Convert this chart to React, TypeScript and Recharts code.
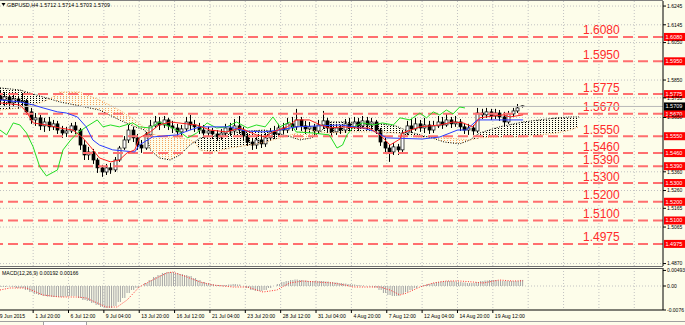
import React from "react";
import {
  ComposedChart,
  Bar,
  Line,
  Area,
  XAxis,
  YAxis,
  CartesianGrid,
  ReferenceLine,
} from "recharts";

// GBPUSD H4 - one candle per two H4 bars (bar index = 2 * position)
// [open, high, low, close]
const candles: [number, number, number, number][] = [
  [1.5765, 1.5797, 1.5722, 1.5744], [1.5744, 1.5786, 1.5712, 1.576], [1.576, 1.5776, 1.5701, 1.5728],
  [1.5728, 1.577, 1.5706, 1.5749], [1.5749, 1.5765, 1.5696, 1.5733], [1.5733, 1.5781, 1.5712, 1.5738],
  [1.5738, 1.5749, 1.5664, 1.568], [1.568, 1.5701, 1.5616, 1.5637], [1.5637, 1.5674, 1.5605, 1.5648],
  [1.5648, 1.5664, 1.5583, 1.5605], [1.5605, 1.5648, 1.5573, 1.5626], [1.5626, 1.5653, 1.5578, 1.56],
  [1.56, 1.5637, 1.5583, 1.5616], [1.5616, 1.5632, 1.5562, 1.5583], [1.5583, 1.5605, 1.5541, 1.5567],
  [1.5567, 1.56, 1.5546, 1.5578], [1.5578, 1.5621, 1.5567, 1.5605], [1.5605, 1.5626, 1.5562, 1.5583],
  [1.5583, 1.5594, 1.5477, 1.5503], [1.5503, 1.553, 1.5423, 1.545], [1.545, 1.5493, 1.5423, 1.5466],
  [1.5466, 1.5482, 1.5402, 1.5423], [1.5423, 1.5434, 1.5354, 1.5381], [1.5381, 1.5397, 1.5333, 1.5359],
  [1.5359, 1.5402, 1.5343, 1.5381], [1.5381, 1.5407, 1.5349, 1.537], [1.537, 1.5439, 1.5359, 1.5423],
  [1.5423, 1.5498, 1.5413, 1.5487], [1.5487, 1.5551, 1.5477, 1.553], [1.553, 1.561, 1.5514, 1.5583],
  [1.5583, 1.56, 1.5519, 1.5541], [1.5541, 1.5562, 1.5477, 1.5503], [1.5503, 1.553, 1.5461, 1.5487],
  [1.5487, 1.5573, 1.5477, 1.5557], [1.5557, 1.5637, 1.5546, 1.5605], [1.5605, 1.5658, 1.5594, 1.5626],
  [1.5626, 1.5653, 1.5583, 1.561], [1.561, 1.5658, 1.5594, 1.5637], [1.5637, 1.5648, 1.5583, 1.5605],
  [1.5605, 1.5632, 1.5567, 1.5594], [1.5594, 1.5616, 1.5551, 1.5573], [1.5573, 1.561, 1.5546, 1.5589],
  [1.5589, 1.5653, 1.5578, 1.5626], [1.5626, 1.5664, 1.5583, 1.561], [1.561, 1.5637, 1.5573, 1.56],
  [1.56, 1.5621, 1.5562, 1.5583], [1.5583, 1.561, 1.5541, 1.5567], [1.5567, 1.56, 1.5546, 1.5578],
  [1.5578, 1.5594, 1.5535, 1.5562], [1.5562, 1.5583, 1.5525, 1.5546], [1.5546, 1.5589, 1.553, 1.5567],
  [1.5567, 1.5616, 1.5551, 1.5594], [1.5594, 1.5621, 1.5551, 1.5578], [1.5578, 1.5642, 1.5562, 1.5605],
  [1.5605, 1.5658, 1.5562, 1.5583], [1.5583, 1.56, 1.5525, 1.5551], [1.5551, 1.5567, 1.5498, 1.5519],
  [1.5519, 1.5541, 1.5477, 1.5503], [1.5503, 1.5551, 1.5482, 1.553], [1.553, 1.5562, 1.5487, 1.5509],
  [1.5509, 1.5567, 1.5493, 1.5541], [1.5541, 1.5594, 1.5525, 1.5573], [1.5573, 1.5605, 1.5535, 1.5562],
  [1.5562, 1.5616, 1.5546, 1.5594], [1.5594, 1.5621, 1.5562, 1.5583], [1.5583, 1.5648, 1.5567, 1.5616],
  [1.5616, 1.5653, 1.5578, 1.56], [1.56, 1.5696, 1.5583, 1.5637], [1.5637, 1.5653, 1.5578, 1.5605],
  [1.5605, 1.5632, 1.5562, 1.5589], [1.5589, 1.5626, 1.5567, 1.56], [1.56, 1.5616, 1.5557, 1.5578],
  [1.5578, 1.5637, 1.5562, 1.561], [1.561, 1.5685, 1.5589, 1.5632], [1.5632, 1.5648, 1.5567, 1.5594],
  [1.5594, 1.5616, 1.5546, 1.5573], [1.5573, 1.5616, 1.5557, 1.5594], [1.5594, 1.561, 1.5562, 1.5583],
  [1.5583, 1.5642, 1.5567, 1.5616], [1.5616, 1.5648, 1.5578, 1.56], [1.56, 1.5653, 1.5589, 1.5626],
  [1.5626, 1.5648, 1.5578, 1.5605], [1.5605, 1.5658, 1.5594, 1.5632], [1.5632, 1.5653, 1.5583, 1.561],
  [1.561, 1.5648, 1.5589, 1.5626], [1.5626, 1.5637, 1.5562, 1.5583], [1.5583, 1.5594, 1.5498, 1.5519],
  [1.5519, 1.5541, 1.5461, 1.5487], [1.5487, 1.5503, 1.5413, 1.5466], [1.5466, 1.5514, 1.545, 1.5493],
  [1.5493, 1.5509, 1.545, 1.5477], [1.5477, 1.5583, 1.5466, 1.5567], [1.5567, 1.5632, 1.5557, 1.5605],
  [1.5605, 1.5642, 1.5567, 1.5589], [1.5589, 1.5648, 1.5578, 1.5616], [1.5616, 1.5637, 1.5573, 1.5594],
  [1.5594, 1.5648, 1.5567, 1.561], [1.561, 1.5632, 1.5562, 1.5583], [1.5583, 1.5632, 1.5567, 1.5605],
  [1.5605, 1.5658, 1.5594, 1.5626], [1.5626, 1.5653, 1.5589, 1.561], [1.561, 1.5669, 1.56, 1.5637],
  [1.5637, 1.5653, 1.5594, 1.5616], [1.5616, 1.5658, 1.56, 1.5626], [1.5626, 1.5642, 1.5578, 1.56],
  [1.56, 1.5621, 1.5562, 1.5583], [1.5583, 1.5616, 1.5557, 1.5594], [1.5594, 1.561, 1.5557, 1.5578],
  [1.5578, 1.5701, 1.5567, 1.5674], [1.5674, 1.5696, 1.5642, 1.5664], [1.5664, 1.5701, 1.5648, 1.568],
  [1.568, 1.5696, 1.5637, 1.5658], [1.5658, 1.5696, 1.5642, 1.5674], [1.5674, 1.569, 1.5632, 1.5653],
  [1.5653, 1.568, 1.56, 1.5626], [1.5626, 1.5685, 1.5616, 1.5669], [1.5669, 1.5701, 1.5653, 1.5685],
  [1.5685, 1.5722, 1.5674, 1.5701], [1.5712, 1.5714, 1.5703, 1.5709],
];

// MACD(12,26,9) main value per candle
const macdMain = [
  -0.00032, -0.00032, -0.00016, -0.00032, -0.00063, -0.00063, -0.00127, -0.0019, -0.00253, -0.00285,
  -0.00317, -0.00333, -0.00348, -0.00348, -0.00348, -0.00333, -0.00317, -0.00317, -0.0038, -0.00443,
  -0.00475, -0.00538, -0.00602, -0.00665, -0.00697, -0.00697, -0.00633, -0.00507, -0.0038, -0.00222,
  -0.00127, -0.00063, 0, 0.00095, 0.0019, 0.00285, 0.00348, 0.00412, 0.00443, 0.00443,
  0.00412, 0.0038, 0.00348, 0.00317, 0.00253, 0.0019, 0.00127, 0.00095, 0.00063, 0.00032,
  0.00032, 0.00032, 0.00048, 0.00063, 0.00048, 0, -0.00063, -0.00127, -0.00158, -0.00158,
  -0.00127, -0.00063, 0, 0.00063, 0.00127, 0.00158, 0.0019, 0.00206, 0.0019, 0.00174,
  0.00158, 0.00158, 0.00158, 0.00158, 0.00143, 0.00127, 0.00111, 0.00095, 0.00079, 0.00063,
  0.00048, 0.00032, 0.00016, 0, -0.00016, -0.00048, -0.00127, -0.00222, -0.00285, -0.00317,
  -0.00317, -0.00253, -0.0019, -0.00127, -0.00063, 0, 0.00032, 0.00063, 0.00095, 0.00127,
  0.00143, 0.00158, 0.00158, 0.00143, 0.00127, 0.00111, 0.00095, 0.00095, 0.00127, 0.00158,
  0.00174, 0.0019, 0.0019, 0.00174, 0.00158, 0.00158, 0.00158, 0.00158, 0.00192,
];

// MACD signal [bar, value]
const macdSignal: [number, number][] = [
  [0, -0.00127], [4.5, -0.00063], [12, -0.00063], [19.5, -0.00285], [27, -0.00348], [35, -0.00348],
  [39, -0.0038], [44, -0.00538], [48, -0.00665], [53, -0.00665], [57.5, -0.00443], [63, -0.00032],
  [69, 0.0019], [75.5, 0.00412], [78, 0.00443], [84.6, 0.00285], [90.5, 0.00127], [96.4, 0.00032],
  [105.4, -0.00032], [111.8, -0.00032], [119, -0.0019], [125.3, -0.00127], [131, 0.00095], [137, 0.00158],
  [143.4, 0.00127], [150.7, 0.00095], [156, 0.00032], [159.7, -0.00032], [172, -0.00032], [176.5, -0.00127],
  [181, -0.00285], [184, -0.00222], [190, -0.00032], [196, 0.00095], [202, 0.00158], [208, 0.00158],
  [214, 0.00127], [218.5, 0.00095], [226, 0.0019], [232, 0.00158], [236.7, 0.00166],
];

// Ichimoku [bar, price]
const tenkan: [number, number][] = [
  [0, 1.5728], [9, 1.5717], [12, 1.568], [15, 1.5621], [21, 1.561], [27, 1.5594], [33, 1.5583],
  [37.5, 1.5541], [41, 1.5493], [45, 1.5434], [50, 1.5413], [54, 1.5423], [57.5, 1.5461], [61, 1.5477],
  [63, 1.5541], [68, 1.5573], [72, 1.561], [77, 1.5626], [89, 1.561], [95, 1.5583], [102.7, 1.5573],
  [108.6, 1.5594], [116, 1.5557], [120, 1.5546], [123.5, 1.5573], [130, 1.56], [134, 1.5637], [140, 1.5637],
  [145, 1.561], [149, 1.5594], [155, 1.56], [161.5, 1.5594], [167, 1.5594], [172, 1.5557], [176.5, 1.5503],
  [181, 1.5535], [182, 1.5567], [190, 1.56], [199, 1.561], [205, 1.5626], [209.5, 1.5621], [214, 1.56],
  [217, 1.5648], [220, 1.5653], [227.6, 1.5664], [230.8, 1.5653], [236.7, 1.5664],
];
const kijun: [number, number][] = [
  [0, 1.5744], [9, 1.5733], [15, 1.5717], [19.5, 1.5701], [26, 1.568], [30, 1.5674], [35, 1.5653],
  [39, 1.56], [42, 1.553], [45, 1.5503], [51, 1.5477], [61, 1.5466], [63, 1.5503], [69, 1.5546],
  [80, 1.5557], [86, 1.5583], [90.5, 1.56], [104, 1.56], [111, 1.5578], [119, 1.5573], [126.7, 1.5583],
  [134, 1.56], [154, 1.561], [164, 1.5594], [169, 1.5578], [175, 1.5541], [191, 1.5535], [199, 1.5546],
  [203.6, 1.5567], [207, 1.5583], [211, 1.5583], [216, 1.5637], [236.7, 1.5637],
];
const chikou: [number, number][] = [
  [0, 1.5583], [3, 1.5557], [6, 1.5621], [9, 1.561], [12, 1.5567], [15, 1.5493], [18, 1.5386],
  [21, 1.5338], [26, 1.537], [28.5, 1.5477], [32, 1.553], [35, 1.5567], [39, 1.56], [44, 1.5637],
  [46.6, 1.56], [50, 1.561], [54, 1.56], [60, 1.5621], [63, 1.56], [68, 1.5594], [72, 1.5626],
  [77, 1.56], [81.4, 1.5573], [85, 1.5541], [89, 1.5567], [93.7, 1.5621], [98, 1.5594], [102.7, 1.56],
  [107, 1.5626], [112, 1.5594], [116, 1.561], [120, 1.56], [123.5, 1.5653], [126.7, 1.56], [131, 1.5626],
  [134, 1.5573], [141.6, 1.5567], [149, 1.5557], [152.5, 1.5487], [155, 1.5503], [157, 1.5557],
  [160, 1.56], [164, 1.5621], [169, 1.561], [173, 1.5621], [178, 1.561], [181, 1.5648], [185.5, 1.5637],
  [190, 1.5674], [193, 1.5648], [196, 1.568], [199, 1.5664], [202, 1.569], [205, 1.5669], [208, 1.5706],
  [210.4, 1.5701],
];
// [bar, senkou span A, senkou span B]
const kumo: [number, number, number][] = [
  [0, 1.569, 1.5808], [9, 1.5701, 1.5797], [18, 1.5728, 1.5765], [22.6, 1.5749, 1.5749],
  [27, 1.5786, 1.5733], [36, 1.5786, 1.5712], [45, 1.5744, 1.569], [54, 1.569, 1.5637],
  [61, 1.5637, 1.56], [65.6, 1.5594, 1.5583], [68, 1.5567, 1.5477], [72, 1.5551, 1.5434],
  [77, 1.5546, 1.5423], [81.4, 1.5541, 1.545], [86, 1.553, 1.5503], [88, 1.5519, 1.5519],
  [90.5, 1.5477, 1.5541], [97, 1.5466, 1.5551], [104, 1.5487, 1.5567], [113, 1.5503, 1.5578],
  [120, 1.5519, 1.5583], [126.7, 1.5541, 1.5562], [130.3, 1.5551, 1.5551], [135.7, 1.5573, 1.553],
  [141, 1.5583, 1.5541], [145, 1.5573, 1.5573], [149, 1.5567, 1.5626], [156, 1.5573, 1.5626],
  [163, 1.5573, 1.5616], [172, 1.5573, 1.5616], [179, 1.5567, 1.5605], [185.5, 1.5551, 1.5573],
  [192, 1.5541, 1.5551], [195.5, 1.5541, 1.5541], [201, 1.5541, 1.5519], [208, 1.5535, 1.5509],
  [212.7, 1.553, 1.553], [217, 1.5541, 1.5567], [226, 1.5546, 1.56], [236.7, 1.5546, 1.5626],
  [244, 1.5557, 1.5637], [252, 1.5567, 1.5648], [258, 1.5583, 1.5653], [262, 1.56, 1.5653],
];

const levels = [1.608, 1.595, 1.5775, 1.567, 1.555, 1.546, 1.539, 1.53, 1.52, 1.51, 1.4975];
const lastPrice = 1.5709;
const priceTicks = [1.6245, 1.6145, 1.605, 1.585, 1.5755, 1.565, 1.536, 1.526, 1.5165, 1.5065, 1.487];
const macdTicks = [0.00493, 0, -0.0076];
const macdTickLabels = ["0.00493", "0.00", "-0.0076"];
const dateTickBars = [15, 31, 47, 63, 79, 95, 111, 127, 143, 159, 175, 191, 207, 223];
const dateLabels = [
  "1 Jul 20:00", "6 Jul 12:00", "9 Jul 04:00", "13 Jul 20:00", "16 Jul 12:00", "21 Jul 04:00",
  "23 Jul 20:00", "28 Jul 12:00", "31 Jul 04:00", "4 Aug 20:00", "7 Aug 12:00", "12 Aug 04:00",
  "14 Aug 20:00", "19 Aug 12:00",
];
const gridBars = [15, 31, 47, 63, 79, 95, 111, 127, 143, 159, 175, 191, 207, 223, 239, 255, 271, 287];

const BG = "#fdfdea";
const FONT = "'Liberation Sans', Arial, sans-serif";
const GRID = "#c2c2c2";

const candleRows = candles.map((c, i) => ({ bar: i * 2, ohlc: c, hl: [c[2], c[1]], macd: macdMain[i] }));
const toRows = (pts: [number, number][]) => pts.map(([bar, v]) => ({ bar, v }));
const kumoRows = kumo.map(([bar, a, b]) => ({ bar, a, b }));

// split the cloud where the spans cross
function kumoSegments(up: boolean) {
  const out: { bar: number; range: number[] }[][] = [];
  let cur: { bar: number; range: number[] }[] = [];
  kumoRows.forEach((r) => {
    const inside = up ? r.a >= r.b : r.b >= r.a;
    if (inside) cur.push({ bar: r.bar, range: up ? [r.b, r.a] : [r.a, r.b] });
    else if (cur.length) {
      out.push(cur);
      cur = [];
    }
  });
  if (cur.length) out.push(cur);
  return out;
}

function Candle(props: any) {
  const { x, y, width, height, payload } = props;
  if (!payload || !height) return null;
  const [o, h, l, c] = payload.ohlc;
  const py = (p: number) => y + ((h - p) / (h - l)) * height;
  const cx = Math.round(x + width / 2) + 0.5;
  const top = py(Math.max(o, c));
  const bot = py(Math.min(o, c));
  return (
    <g>
      <line x1={cx} x2={cx} y1={y} y2={y + height} stroke="#000" strokeWidth={1} />
      <rect x={cx - 1.5} y={top} width={3} height={Math.max(bot - top, 0.8)}
        fill={c >= o ? "#fff" : "#000"} stroke="#000" strokeWidth={0.7} />
    </g>
  );
}

function Hatch(props: any) {
  const { x, y, width, height } = props;
  if (!height) return null;
  const top = Math.min(y, y + height);
  const h = Math.abs(height);
  const cx = x + width / 2;
  return (
    <g stroke="#a4a4a4" strokeWidth={1}>
      <line x1={cx - 1.1} x2={cx - 1.1} y1={top} y2={top + h} />
      <line x1={cx + 1.1} x2={cx + 1.1} y1={top} y2={top + h} />
    </g>
  );
}

const levelLabel = (v: number) => (p: any) => {
  const y = p.viewBox ? p.viewBox.y : 0;
  const t = v.toFixed(4);
  return (
    <g>
      <text x={583} y={y - 2.5} fontSize={12} fill="#ff2b2b" fontFamily={FONT}>{t}</text>
      <rect x={664} y={y - 4} width={21} height={8} fill="#ff0000" />
      <text x={665.5} y={y + 2} fontSize={5.5} fill="#fff" fontFamily={FONT}>{t}</text>
    </g>
  );
};

const priceLabel = (p: any) => {
  const y = p.viewBox ? p.viewBox.y : 0;
  return (
    <g>
      <rect x={664} y={y - 4} width={21} height={8} fill="#000" />
      <text x={665.5} y={y + 2} fontSize={5.5} fill="#fff" fontFamily={FONT}>{lastPrice.toFixed(4)}</text>
    </g>
  );
};

function DateTick(props: any) {
  const { x, y, payload } = props;
  const i = dateTickBars.indexOf(payload.value);
  return (
    <text x={x + 2} y={y + 5} fontSize={5.1} fill="#000" fontFamily={FONT}>
      {dateLabels[i]}
    </text>
  );
}

export default function App() {
  const upSegs = kumoSegments(true);
  const downSegs = kumoSegments(false);
  return (
    <div style={{ position: "relative", width: 685, height: 325, background: BG, overflow: "hidden" }}>
      <style>{"body{margin:0}"}</style>
      <ComposedChart width={685} height={267} data={candleRows} margin={{ top: 1, right: 0, bottom: 1, left: 0 }}>
        <defs>
          <pattern id="dotsOrange" width="3" height="2" patternUnits="userSpaceOnUse">
            <rect width="1" height="1" fill="#f4a460" />
          </pattern>
          <pattern id="dotsBlack" width="3" height="2" patternUnits="userSpaceOnUse">
            <rect width="1" height="1" fill="#000" />
          </pattern>
        </defs>
        <CartesianGrid stroke={GRID} strokeDasharray="1 2" horizontalValues={priceTicks} verticalValues={gridBars} />
        <XAxis dataKey="bar" type="number" domain={[0, 300]} ticks={gridBars} hide allowDataOverflow />
        <YAxis
          orientation="right"
          width={22}
          domain={[1.4857, 1.6272]}
          allowDataOverflow
          ticks={priceTicks}
          interval={0}
          tickFormatter={(v: number) => v.toFixed(4)}
          tick={{ fontSize: 5, fill: "#000", fontFamily: FONT }}
          tickSize={3}
          tickMargin={1}
          axisLine={{ stroke: "#000" }}
          tickLine={{ stroke: "#000" }}
        />
        {upSegs.map((seg, k) => (
          <Area key={`u${k}`} data={seg} dataKey="range" type="linear" stroke="none"
            fill="url(#dotsOrange)" fillOpacity={1} isAnimationActive={false} />
        ))}
        {downSegs.map((seg, k) => (
          <Area key={`d${k}`} data={seg} dataKey="range" type="linear" stroke="none"
            fill="url(#dotsBlack)" fillOpacity={1} isAnimationActive={false} />
        ))}
        <Line data={kumoRows} dataKey="a" type="linear" stroke="#f4a460" strokeDasharray="1 1.5"
          dot={false} isAnimationActive={false} />
        <Line data={kumoRows} dataKey="b" type="linear" stroke="#000" strokeDasharray="1 1.5"
          dot={false} isAnimationActive={false} />
        {levels.map((v) => (
          <ReferenceLine key={v} y={v} stroke="#ff6e6e" strokeWidth={2} strokeDasharray="10 5"
            label={levelLabel(v)} />
        ))}
        <ReferenceLine y={lastPrice} stroke="#b8b8b8" label={priceLabel} />
        <Bar dataKey="hl" barSize={3} shape={(p: any) => <Candle {...p} />} isAnimationActive={false} />
        <Line data={toRows(chikou)} dataKey="v" type="linear" stroke="#22dd22" strokeWidth={1}
          dot={false} isAnimationActive={false} />
        <Line data={toRows(kijun)} dataKey="v" type="linear" stroke="#2a3cff" strokeWidth={1}
          dot={false} isAnimationActive={false} />
        <Line data={toRows(tenkan)} dataKey="v" type="linear" stroke="#ff2020" strokeWidth={1}
          dot={false} isAnimationActive={false} />
      </ComposedChart>
      <ComposedChart width={685} height={58} data={candleRows} margin={{ top: 1, right: 0, bottom: 0, left: 0 }}>
        <CartesianGrid stroke={GRID} strokeDasharray="1 2" horizontalValues={[0]} verticalValues={gridBars} />
        <XAxis
          dataKey="bar"
          type="number"
          domain={[0, 300]}
          allowDataOverflow
          ticks={dateTickBars}
          interval={0}
          height={15}
          tick={(p: any) => <DateTick {...p} />}
          tickSize={3}
          tickMargin={0}
          axisLine={{ stroke: "#000" }}
          tickLine={{ stroke: "#000" }}
        />
        <YAxis
          orientation="right"
          width={22}
          domain={[-0.0076, 0.0057]}
          allowDataOverflow
          ticks={macdTicks}
          interval={0}
          tickFormatter={(v: number) => macdTickLabels[macdTicks.indexOf(v)] ?? String(v)}
          tick={{ fontSize: 5, fill: "#000", fontFamily: FONT }}
          tickSize={3}
          tickMargin={1}
          axisLine={{ stroke: "#000" }}
          tickLine={{ stroke: "#000" }}
        />
        <Bar dataKey="macd" barSize={4} shape={(p: any) => <Hatch {...p} />} isAnimationActive={false} />
        <Line data={toRows(macdSignal)} dataKey="v" type="linear" stroke="#ff3030" strokeDasharray="1 1.5"
          dot={false} isAnimationActive={false} />
      </ComposedChart>
      <svg width={685} height={325} style={{ position: "absolute", left: 0, top: 0, pointerEvents: "none" }}>
        <line x1={0} x2={663} y1={0.5} y2={0.5} stroke="#808080" />
        <line x1={0} x2={663} y1={266.5} y2={266.5} stroke="#707070" />
        <line x1={0} x2={663} y1={268.5} y2={268.5} stroke="#505050" />
        <path d="M1.5 3 L5.5 3 L3.5 6 Z" fill="#000" />
        <text x={7} y={7} fontSize={5.4} fill="#000" fontFamily={FONT}>
          GBPUSD,H4 1.5712 1.5714 1.5703 1.5709
        </text>
        <text x={2} y={274.5} fontSize={5.2} fill="#000" fontFamily={FONT}>
          MACD(12,26,9) 0.00192 0.00166
        </text>
        <text x={-3} y={318} fontSize={5.1} fill="#000" fontFamily={FONT}>29 Jun 2015</text>
        <line x1={0} x2={685} y1={321.5} y2={321.5} stroke="#a0a0a0" />
        <rect x={43.5} y={321.5} width={43} height={5} fill="#fff" stroke="#a0a0a0" />
      </svg>
    </div>
  );
}
